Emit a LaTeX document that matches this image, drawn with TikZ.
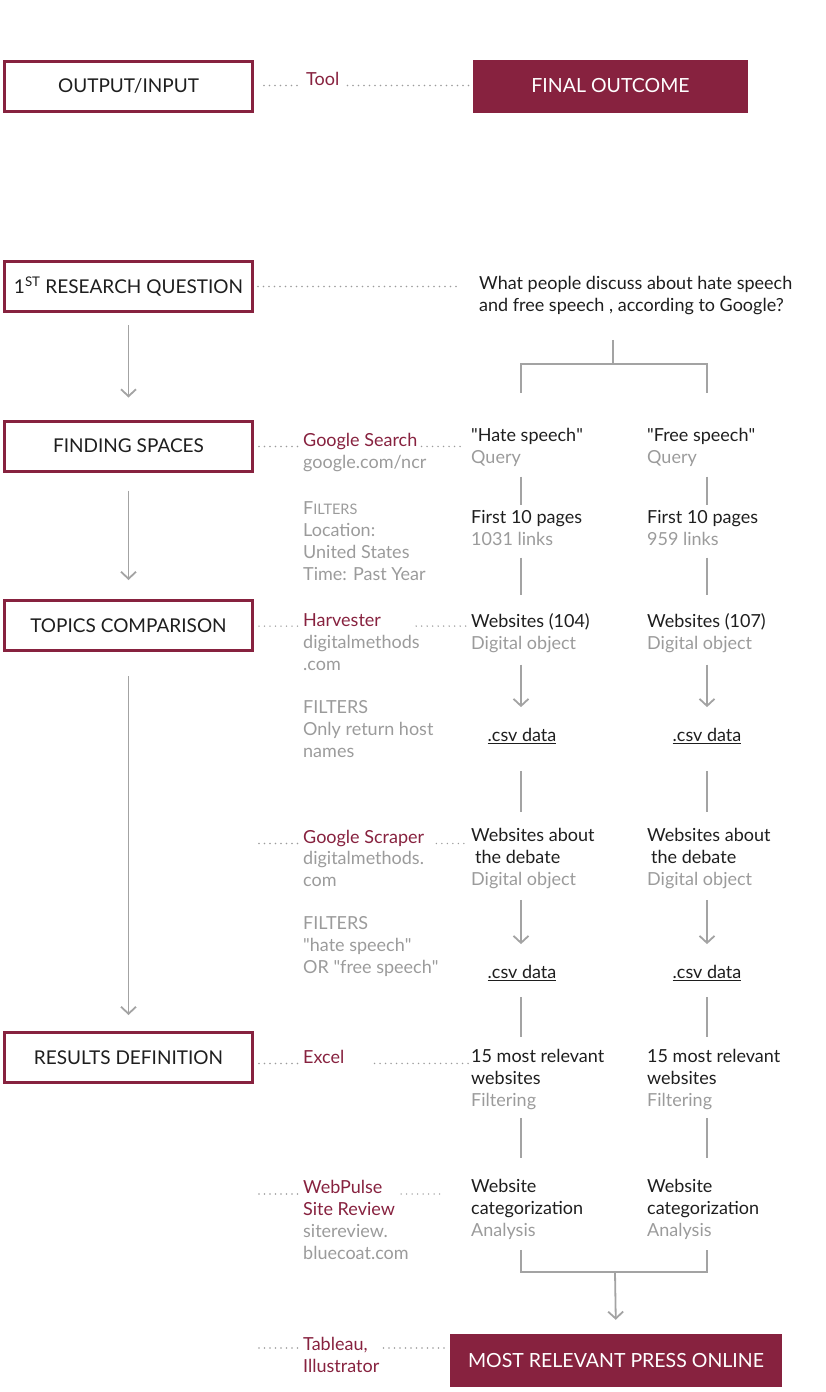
\documentclass[tikz,border=0pt]{standalone}
\usepackage{fontspec}
\setmainfont{Lato}
\usetikzlibrary{arrows.meta}

\definecolor{wine}{HTML}{87223F}
\definecolor{softgray}{HTML}{9B9B9B}
\definecolor{inkgray}{HTML}{1E1E1E}
\definecolor{linegray}{HTML}{A3A3A3}

\newcommand{\qt}[1]{\textquotedbl#1\textquotedbl}

\tikzset{
  stagebox/.style={draw=wine, line width=3pt, minimum width=248pt, minimum height=50pt,
    font=\fontsize{19}{22}\selectfont, text=inkgray},
  outcomebox/.style={fill=wine, minimum height=53pt, font=\fontsize{19.5}{22}\selectfont, text=white},
  txt/.style={anchor=north west, inner sep=0pt, align=left, font=\fontsize{18}{22}\selectfont, text=inkgray},
  tooltxt/.style={txt, text=wine},
  infotxt/.style={txt, text=softgray},
  dots/.style={draw=softgray, line width=1.6pt, line cap=round, dash pattern=on 0pt off 5.5pt},
  conn/.style={draw=linegray, line width=1.8pt},
  flow/.style={conn, -{Straight Barb[length=7pt,width=15pt,line width=1.8pt]}},
}

\begin{document}
\begin{tikzpicture}[x=1pt,y=-1pt]
\useasboundingbox (0,0) rectangle (825,1392);

% Legend
\node[stagebox] (legend) at (128.5,86) {OUTPUT/INPUT};
\node[tooltxt] (tool) at (306,72) {Tool};
\node[outcomebox, minimum width=275pt] (final) at (610.5,86) {FINAL OUTCOME};
\draw[dots, shorten <=10pt, shorten >=6pt] (legend.east |- tool.base) -- (tool.base west);
\draw[dots, shorten <=8pt] (tool.base east) -- (tool.base east -| final.west);

% Research question
\node[stagebox] (rq) at (128.5,286.5) {1\textsuperscript{ST} RESEARCH QUESTION};
\node[txt] (question) at (479,276) {What people discuss about hate speech\\and free speech , according to Google?};
\draw[dots, shorten <=4pt, shorten >=22pt] (rq.east) -- (rq.east -| question.west);

\coordinate (hx) at (521,0);
\coordinate (fx) at (707,0);
\coordinate (qfork) at (613,364);

% Finding spaces
\node[stagebox] (fs) at (128.5,446) {FINDING SPACES};
\node[tooltxt] (gsearch) at (303,433) {Google Search};
\node[infotxt] (gsearchinfo) at (303,455) {google.com/ncr\\[24pt]F{\fontsize{14.5}{22}\selectfont ILTERS}\\Location:\\United States\\Time: Past Year};
\node[txt] (hquery) at (471,428) {\qt{Hate speech}\\\textcolor{softgray}{Query}};
\node[txt] (fquery) at (647,428) {\qt{Free speech}\\\textcolor{softgray}{Query}};
\node[txt] (hpages) at (471,510) {First 10 pages\\\textcolor{softgray}{1031 links}};
\node[txt] (fpages) at (647,510) {First 10 pages\\\textcolor{softgray}{959 links}};
\draw[dots, shorten <=5pt, shorten >=5pt] (fs.east |- gsearch.base) -- (gsearch.base west);
\draw[dots, shorten <=4pt, shorten >=6pt] (gsearch.base east) -- (gsearch.base east -| hquery.west);

% Topics comparison
\node[stagebox] (tc) at (128.5,625.5) {TOPICS COMPARISON};
\node[tooltxt] (harvester) at (303,613) {Harvester};
\node[infotxt] (harvesterinfo) at (303,635) {digitalmethods\\.com\\[21pt]FILTERS\\Only return host\\names};
\node[txt] (hweb) at (471,613) {Websites (104)\\\textcolor{softgray}{Digital object}};
\node[txt] (fweb) at (647,613) {Websites (107)\\\textcolor{softgray}{Digital object}};
\node[txt, anchor=center] (hcsv) at (522,736) {\underline{.csv data}};
\node[txt, anchor=center] (fcsv) at (707,736) {\underline{.csv data}};
\draw[dots, shorten <=5pt, shorten >=5pt] (tc.east |- harvester.base) -- (harvester.base west);
\draw[dots, shorten <=35pt, shorten >=2pt] (harvester.base east) -- (harvester.base east -| hweb.west);

\node[tooltxt] (scraper) at (303,830) {Google Scraper};
\node[infotxt] (scraperinfo) at (303,851) {digitalmethods.\\com\\[21pt]FILTERS\\\qt{hate speech}\\OR \qt{free speech}};
\node[txt] (hdeb) at (471,828) {Websites about\\\hspace{4pt}the debate\\\textcolor{softgray}{Digital object}};
\node[txt] (fdeb) at (647,828) {Websites about\\\hspace{4pt}the debate\\\textcolor{softgray}{Digital object}};
\node[txt, anchor=center] (hdata) at (522,973) {\underline{.csv data}};
\node[txt, anchor=center] (fdata) at (707,973) {\underline{.csv data}};
\draw[dots, shorten <=5pt, shorten >=5pt] (tc.east |- scraper.base) -- (scraper.base west);
\draw[dots, shorten <=12pt, shorten >=2pt] (scraper.base east) -- (scraper.base east -| hdeb.west);

% Results definition
\node[stagebox] (rd) at (128.5,1057.5) {RESULTS DEFINITION};
\node[tooltxt] (excel) at (303,1050) {Excel};
\node[txt] (hrel) at (471,1049) {15 most relevant\\websites\\\textcolor{softgray}{Filtering}};
\node[txt] (frel) at (647,1049) {15 most relevant\\websites\\\textcolor{softgray}{Filtering}};
\draw[dots, shorten <=5pt, shorten >=4pt] (rd.east |- excel.base) -- (excel.base west);
\draw[dots, shorten <=30pt, shorten >=2pt] (excel.base east) -- (excel.base east -| hrel.west);

\node[tooltxt] (webpulse) at (303,1180) {WebPulse\\Site Review};
\node[infotxt] (webpulseinfo) at (303,1224) {sitereview.\\bluecoat.com};
\node[txt] (hcat) at (471,1179) {Website\\categorization\\\textcolor{softgray}{Analysis}};
\node[txt] (fcat) at (647,1179) {Website\\categorization\\\textcolor{softgray}{Analysis}};
\coordinate (webpulseline) at ([yshift=-14pt]webpulse.north west);
\draw[dots, shorten <=5pt, shorten >=5pt] (rd.east |- webpulseline) -- (webpulseline);
\draw[dots, shorten <=6pt, shorten >=26pt] (webpulse.east |- webpulseline) -- (hcat.west |- webpulseline);

% Final outcome
\node[tooltxt] (tableau) at (303,1337) {Tableau,\\Illustrator};
\node[outcomebox, minimum width=332pt] (press) at (616,1360.5) {MOST RELEVANT PRESS ONLINE};
\coordinate (tableauline) at ([yshift=-11pt]tableau.north west);
\draw[dots, shorten <=5pt, shorten >=5pt] (rd.east |- tableauline) -- (tableauline);
\draw[dots, shorten <=4pt, shorten >=5pt] (tableau.east |- tableauline) -- (press.west |- tableauline);

% Stage arrows
\draw[flow, shorten <=12pt, shorten >=22pt] (rq.south) -- (fs.north);
\draw[flow, shorten <=18pt, shorten >=19pt] (fs.south) -- (tc.north);
\draw[flow, shorten <=24pt, shorten >=16pt] (tc.south) -- (rd.north);

% Fork under the question
\draw[conn, shorten <=25pt] (question.south -| qfork) -- (qfork);
\draw[conn] ([yshift=35pt]hquery.north -| hx) |- (qfork) -| ([yshift=35pt]fquery.north -| fx);

% Column connectors
\foreach \c in {h,f} {
  \draw[conn, shorten <=10pt, shorten >=5pt] (\c query.south -| \c x) -- (\c pages.north -| \c x);
  \draw[conn, shorten <=12pt, shorten >=18pt] (\c pages.south -| \c x) -- (\c web.north -| \c x);
  \draw[flow, shorten <=12pt, shorten >=21pt] (\c web.south -| \c x) -- (\c csv.north -| \c x);
  \draw[conn, shorten <=27pt, shorten >=16pt] (\c csv.south -| \c x) -- (\c deb.north -| \c x);
  \draw[flow, shorten <=11pt, shorten >=21pt] (\c deb.south -| \c x) -- (\c data.north -| \c x);
  \draw[conn, shorten <=16pt, shorten >=12pt] (\c data.south -| \c x) -- (\c rel.north -| \c x);
  \draw[conn, shorten <=8pt, shorten >=21pt] (\c rel.south -| \c x) -- (\c cat.north -| \c x);
}

% Merge into the outcome
\coordinate (merge) at (615,1272);
\draw[conn, shorten <=10pt, shorten >=10pt] (hcat.south -| hx) |- (merge) -| (fcat.south -| fx);
\draw[flow, shorten >=14pt] (merge) -- (press.north);
\end{tikzpicture}
\end{document}
